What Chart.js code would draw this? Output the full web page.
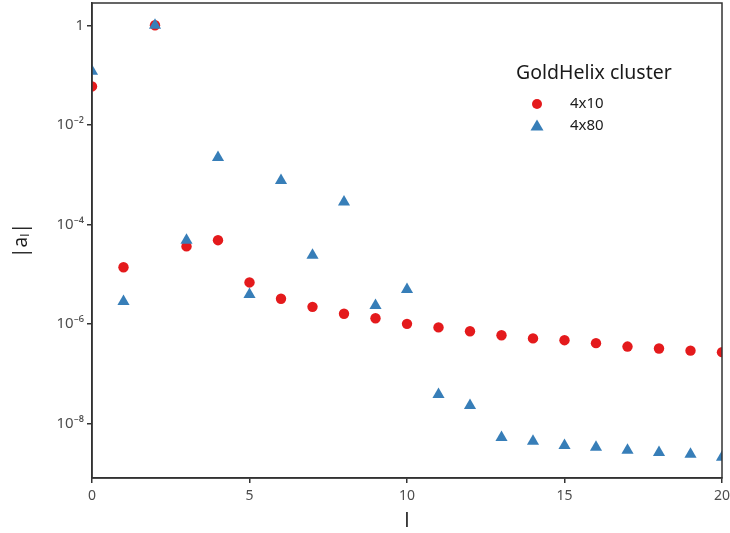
<!DOCTYPE html>
<html>
<head>
<meta charset="utf-8">
<script src="https://cdn.jsdelivr.net/npm/chart.js@4"></script>
<style>
  html, body { margin: 0; padding: 0; background: #fff; }
  #wrap { width: 730px; height: 533px; }
</style>
</head>
<body>
<div id="wrap"><canvas id="chart" width="730" height="533"></canvas></div>
<script>
const ells = [0, 1, 2, 3, 4, 5, 6, 7, 8, 9, 10, 11, 12, 13, 14, 15, 16, 17, 18, 19, 20];
const coeff4x10 = [0.059, 1.37e-5, 1.0, 3.6e-5, 4.8e-5, 6.8e-6, 3.2e-6, 2.2e-6, 1.6e-6, 1.3e-6,
  1.0e-6, 8.5e-7, 7.1e-7, 5.9e-7, 5.1e-7, 4.7e-7, 4.1e-7, 3.5e-7, 3.2e-7, 2.9e-7, 2.7e-7];
const coeff4x80 = [0.119, 2.8e-6, 1.0, 4.8e-5, 2.2e-3, 3.9e-6, 7.6e-4, 2.4e-5, 2.8e-4, 2.35e-6,
  4.9e-6, 3.8e-8, 2.3e-8, 5.2e-9, 4.4e-9, 3.6e-9, 3.3e-9, 2.9e-9, 2.6e-9, 2.4e-9, 2.1e-9];
const yTickValues = [1e-8, 1e-6, 1e-4, 1e-2, 1];
const yTickLabels = ['10\u207B\u2078', '10\u207B\u2076', '10\u207B\u2074', '10\u207B\u00B2', '1'];
const seriesNames = ['4x10', '4x80'];
const legendTitle = 'GoldHelix cluster';

const RED = '#e41a1c';
const BLUE = '#377eb8';
const FONT = '"Noto Sans", sans-serif';

const toPoints = (vals) => vals.map((v, i) => ({ x: ells[i], y: v }));

// frame around the panel
const framePlugin = {
  id: 'framePlugin',
  afterDraw(chart) {
    const { ctx, chartArea: a } = chart;
    ctx.save();
    ctx.strokeStyle = '#333333';
    ctx.lineWidth = 1.5;
    ctx.strokeRect(a.left, a.top, a.right - a.left, a.bottom - a.top);
    ctx.restore();
  },
};

// legend inside the panel
const legendPlugin = {
  id: 'legendPlugin',
  afterDraw(chart) {
    const { ctx } = chart;
    ctx.save();
    ctx.fillStyle = '#1a1a1a';
    ctx.textBaseline = 'middle';
    ctx.textAlign = 'left';
    ctx.font = '19.5px ' + FONT;
    ctx.fillText(legendTitle, 516, 73);

    ctx.font = '15px ' + FONT;
    ctx.fillText(seriesNames[0], 570, 104);
    ctx.fillText(seriesNames[1], 570, 126);

    ctx.fillStyle = RED;
    ctx.beginPath();
    ctx.arc(537, 104, 5, 0, Math.PI * 2);
    ctx.fill();

    ctx.fillStyle = BLUE;
    ctx.beginPath();
    ctx.moveTo(537, 119.5);
    ctx.lineTo(543.5, 130.5);
    ctx.lineTo(530.5, 130.5);
    ctx.closePath();
    ctx.fill();
    ctx.restore();
  },
};

new Chart(document.getElementById('chart').getContext('2d'), {
  type: 'scatter',
  data: {
    datasets: [
      {
        label: seriesNames[0],
        data: toPoints(coeff4x10),
        pointStyle: 'circle',
        pointRadius: 5.2,
        backgroundColor: RED,
        borderColor: RED,
        borderWidth: 0,
        order: 2,
      },
      {
        label: seriesNames[1],
        data: toPoints(coeff4x80),
        pointStyle: 'triangle',
        pointRadius: 7,
        backgroundColor: BLUE,
        borderColor: BLUE,
        borderWidth: 0,
        order: 1,
      },
    ],
  },
  options: {
    responsive: false,
    animation: false,
    layout: { autoPadding: false, padding: { top: 3, right: 8, left: 0, bottom: 0 } },
    plugins: {
      legend: { display: false },
      tooltip: { enabled: false },
    },
    scales: {
      x: {
        type: 'linear',
        min: 0,
        max: 20,
        afterFit: (axis) => {
          axis.height = 55;
          axis.paddingLeft = 0;
          axis.paddingRight = 0;
        },
        ticks: {
          stepSize: 5,
          color: '#4d4d4d',
          font: { family: FONT, size: 14 },
          padding: 5,
          maxRotation: 0,
        },
        grid: { drawOnChartArea: false, drawTicks: true, tickLength: 5, color: '#333333', lineWidth: 1.5 },
        border: { display: true, color: '#333333', width: 1.5 },
        title: {
          display: true,
          text: 'l',
          color: '#1a1a1a',
          font: { family: FONT, size: 19 },
          padding: { top: 0, bottom: 0 },
        },
      },
      y: {
        type: 'logarithmic',
        min: 8e-10,
        max: 2.8,
        afterFit: (axis) => {
          axis.width = 92;
          axis.paddingTop = 0;
          axis.paddingBottom = 0;
        },
        afterBuildTicks: (axis) => { axis.ticks = yTickValues.map((v) => ({ value: v })); },
        ticks: {
          color: '#4d4d4d',
          font: { family: FONT, size: 15 },
          padding: 3,
          callback: (value) => {
            const i = yTickValues.findIndex((t) => Math.abs(Math.log10(t) - Math.log10(value)) < 1e-6);
            return i >= 0 ? yTickLabels[i] : '';
          },
        },
        grid: { drawOnChartArea: false, drawTicks: true, tickLength: 5, color: '#333333', lineWidth: 1.5 },
        border: { display: true, color: '#333333', width: 1.5 },
        title: {
          display: true,
          text: '|a\u2097|',
          color: '#1a1a1a',
          font: { family: FONT, size: 19 },
          padding: { top: 10, bottom: 0 },
        },
      },
    },
  },
  plugins: [framePlugin, legendPlugin],
});
</script>
</body>
</html>
